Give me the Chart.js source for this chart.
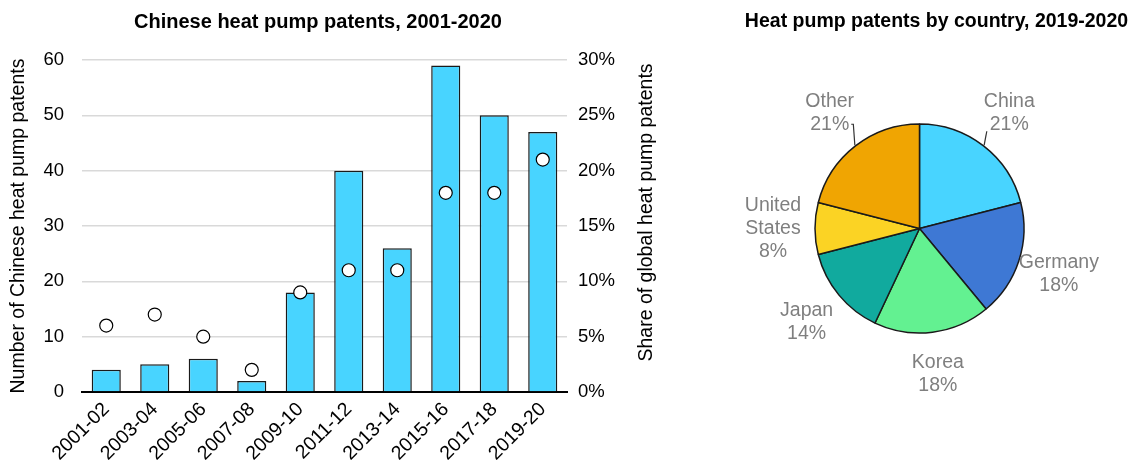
<!DOCTYPE html>
<html><head><meta charset="utf-8">
<script src="https://cdn.jsdelivr.net/npm/chart.js@4.4.1/dist/chart.umd.min.js"></script>
<style>
html,body{margin:0;padding:0;background:#fff;}
#wrap{position:relative;width:1135px;height:470px;overflow:hidden;background:#fff;}
#c1{position:absolute;left:0;top:0;}
#c2{position:absolute;left:738px;top:0;}
</style></head><body>
<div id="wrap">
<canvas id="c1" width="680" height="470"></canvas>
<canvas id="c2" width="397" height="470"></canvas>
</div>
<script>
// ---- data ----
const periods = ['2001-02','2003-04','2005-06','2007-08','2009-10','2011-12','2013-14','2015-16','2017-18','2019-20'];
const patentCounts = [4, 5, 6, 2, 18, 40, 26, 59, 50, 47];
const globalSharePct = [6, 7, 5, 2, 9, 11, 11, 18, 18, 21];
const countTickMax = 60, countTickStep = 10;
const shareTickMax = 30, shareTickStep = 5;
const countries = ['China', 'Germany', 'Korea', 'Japan', 'United States', 'Other'];
const countrySharePct = [21, 18, 18, 14, 8, 21];
const countryColors = ['#48D4FF', '#3E78D4', '#63F191', '#11AA9E', '#FBD324', '#F0A502'];

Chart.defaults.font.family = "'Liberation Sans', Arial, Helvetica, sans-serif";
Chart.defaults.color = '#000';

// Titles drawn as canvas text at a set centre (Chart.js' own title box would be squeezed by padding)
const centredTitle = {
  id: 'centredTitle',
  afterDraw(chart, args, opts) {
    const ctx = chart.ctx;
    ctx.save();
    ctx.font = `bold ${opts.size}px ${Chart.defaults.font.family}`;
    ctx.fillStyle = opts.color;
    ctx.textAlign = 'center';
    ctx.textBaseline = 'middle';
    ctx.fillText(opts.text, opts.x, opts.y);
    ctx.restore();
  }
};

const rightAxisTitle = {
  id: 'rightAxisTitle',
  afterDraw(chart, args, opts) {
    const s = chart.scales[opts.scaleId];
    const ctx = chart.ctx;
    ctx.save();
    ctx.font = `${opts.size}px ${Chart.defaults.font.family}`;
    ctx.fillStyle = opts.color;
    ctx.textAlign = 'center';
    ctx.textBaseline = 'middle';
    ctx.translate(s.right - opts.offset, (s.top + s.bottom) / 2 - opts.shift);
    ctx.rotate(-Math.PI / 2);
    ctx.fillText(opts.text, 0, 0);
    ctx.restore();
  }
};

new Chart(document.getElementById('c1'), {
  data: {
    labels: periods,
    datasets: [
      { type: 'line', data: globalSharePct, yAxisID: 'y2', showLine: false,
        pointRadius: 6.5, pointBackgroundColor: '#fff', pointBorderColor: '#000', pointBorderWidth: 1.2, order: 0 },
      { type: 'bar', data: patentCounts, yAxisID: 'y', backgroundColor: '#48D4FF',
        borderColor: '#1a1a1a', borderWidth: 1.5, barPercentage: 0.6, categoryPercentage: 1, order: 1 }
    ]
  },
  options: {
    responsive: false, animation: false,
    layout: { padding: { top: 60 } },
    plugins: {
      legend: { display: false }, tooltip: { enabled: false }, title: { display: false },
      centredTitle: { text: 'Chinese heat pump patents, 2001-2020', x: 318, y: 22, size: 20, color: '#000' },
      rightAxisTitle: { scaleId: 'y2', text: 'Share of global heat pump patents', size: 19.5, color: '#000', offset: 33.3, shift: 13.5 }
    },
    scales: {
      x: {
        grid: { display: false, drawTicks: false },
        border: { color: '#000', width: 2 },
        ticks: { color: '#000', font: { size: 19.5 }, maxRotation: 45, minRotation: 45, padding: 6, autoSkip: false },
        afterFit(s) { s.height = 78; }
      },
      y: {
        position: 'left', min: 0, max: countTickMax,
        ticks: { stepSize: countTickStep, color: '#000', font: { size: 18.5 }, padding: 18 },
        grid: { color: c => c.tick && c.tick.value === 0 ? 'rgba(0,0,0,0)' : '#d9d9d9', lineWidth: 1.5, drawTicks: false },
        border: { display: false },
        title: { display: true, text: 'Number of Chinese heat pump patents', color: '#000', font: { size: 19.5, lineHeight: 1.2 }, padding: { top: 7, bottom: 0 } },
        afterFit(s) { s.width = 82; }
      },
      y2: {
        position: 'right', min: 0, max: shareTickMax,
        ticks: { stepSize: shareTickStep, color: '#000', font: { size: 18.5 }, padding: 11, callback: v => v + '%' },
        grid: { display: false, drawTicks: false },
        border: { display: false },
        afterFit(s) { s.width = 113; }
      }
    }
  },
  plugins: [rightAxisTitle, centredTitle]
});

const pieLabels = {
  id: 'pieLabels',
  afterDatasetsDraw(chart, args, opts) {
    const ctx = chart.ctx;
    const meta = chart.getDatasetMeta(0);
    const ds = chart.data.datasets[0];
    ctx.save();
    ctx.font = `${opts.size}px ${Chart.defaults.font.family}`;
    ctx.fillStyle = opts.color;
    ctx.textAlign = 'center';
    ctx.textBaseline = 'middle';
    meta.data.forEach((arc, i) => {
      const p = arc.getProps(['x', 'y', 'startAngle', 'endAngle', 'outerRadius'], true);
      const mid = (p.startAngle + p.endAngle) / 2;
      const d = p.outerRadius + opts.distance;
      const cx = p.x + Math.cos(mid) * d, cy = p.y + Math.sin(mid) * d;
      const label = chart.data.labels[i];
      const lines = label.split(' ').concat([ds.data[i] + '%']);
      const h = opts.lineHeight;
      const y0 = cy - (lines.length - 1) * h / 2;
      lines.forEach((t, k) => ctx.fillText(t, cx, y0 + k * h));
      if (opts.leaders.includes(label)) {
        const ex = p.x + Math.cos(mid) * (p.outerRadius + 1), ey = p.y + Math.sin(mid) * (p.outerRadius + 1);
        const last = lines[lines.length - 1];
        const w = ctx.measureText(last).width;
        const ly = y0 + (lines.length - 1) * h;
        ctx.beginPath();
        ctx.strokeStyle = '#333';
        ctx.lineWidth = 1.2;
        if (Math.cos(mid) >= 0) {
          ctx.moveTo(ex, ey);
          ctx.lineTo(cx - w / 2 - 3, ly + 7);
        } else {
          ctx.moveTo(cx + w / 2 + 2, ly);
          ctx.lineTo(ex - 1.5, ly);
          ctx.lineTo(ex, ey);
        }
        ctx.stroke();
      }
    });
    ctx.restore();
  }
};

new Chart(document.getElementById('c2'), {
  type: 'pie',
  data: {
    labels: countries,
    datasets: [{ data: countrySharePct, backgroundColor: countryColors, borderColor: '#1a1a1a', borderWidth: 1.5 }]
  },
  options: {
    responsive: false, animation: false,
    radius: 104.5,
    layout: { padding: { left: 60, right: 94, top: 73.4, bottom: 86.4 } },
    plugins: {
      legend: { display: false }, tooltip: { enabled: false }, title: { display: false },
      centredTitle: { text: 'Heat pump patents by country, 2019-2020', x: 198.5, y: 22, size: 19.5, color: '#000' },
      pieLabels: { size: 19.5, color: '#7f7f7f', distance: 42, lineHeight: 23, leaders: ['China', 'Other'] }
    }
  },
  plugins: [pieLabels, centredTitle]
});
</script>
</body></html>
